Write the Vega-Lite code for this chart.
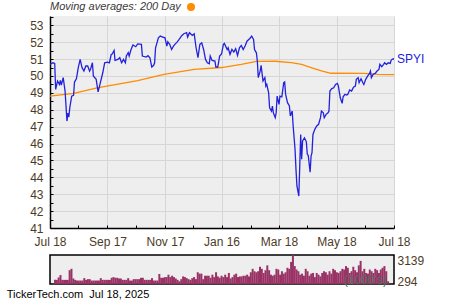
{
  "$schema": "https://vega.github.io/schema/vega-lite/v6.json",
  "padding": {"left": 6, "top": 2, "right": 2, "bottom": 0},
  "background": "white",
  "config": {"font": "Liberation Sans", "view": {"stroke": null}},
  "title": {"text": "TickerTech.com\u00a0\u00a0Jul 18, 2025", "orient": "bottom", "anchor": "start", "frame": "bounds", "fontSize": 11, "fontWeight": "normal", "color": "#000000", "dx": -23, "offset": 1},
  "spacing": 6,
  "datasets": {
    "price": [
      {"date": "2024-07-18", "value": 50.69}, {"date": "2024-07-21", "value": 50.78}, {"date": "2024-07-23", "value": 50.74}, {"date": "2024-07-24", "value": 49.2},
      {"date": "2024-07-26", "value": 49.7}, {"date": "2024-07-28", "value": 49.5}, {"date": "2024-07-29", "value": 49.74}, {"date": "2024-07-30", "value": 49.46},
      {"date": "2024-08-01", "value": 49.9}, {"date": "2024-08-03", "value": 49.1}, {"date": "2024-08-05", "value": 47.33}, {"date": "2024-08-06", "value": 47.8},
      {"date": "2024-08-07", "value": 47.57}, {"date": "2024-08-08", "value": 48.12}, {"date": "2024-08-10", "value": 48.8}, {"date": "2024-08-12", "value": 48.85},
      {"date": "2024-08-13", "value": 49.64}, {"date": "2024-08-15", "value": 49.83}, {"date": "2024-08-17", "value": 50.49}, {"date": "2024-08-19", "value": 50.98},
      {"date": "2024-08-21", "value": 50.49}, {"date": "2024-08-23", "value": 50.29}, {"date": "2024-08-25", "value": 50.59}, {"date": "2024-08-27", "value": 50.59},
      {"date": "2024-08-29", "value": 50.29}, {"date": "2024-08-30", "value": 50.4}, {"date": "2024-09-01", "value": 50.78}, {"date": "2024-09-02", "value": 50.0},
      {"date": "2024-09-05", "value": 49.8}, {"date": "2024-09-07", "value": 49.06}, {"date": "2024-09-09", "value": 49.5}, {"date": "2024-09-12", "value": 50.19},
      {"date": "2024-09-14", "value": 50.78}, {"date": "2024-09-17", "value": 50.82}, {"date": "2024-09-19", "value": 50.78}, {"date": "2024-09-21", "value": 51.28},
      {"date": "2024-09-22", "value": 51.3}, {"date": "2024-09-24", "value": 51.51}, {"date": "2024-09-25", "value": 50.92}, {"date": "2024-09-28", "value": 50.98},
      {"date": "2024-09-30", "value": 51.08}, {"date": "2024-10-02", "value": 50.78}, {"date": "2024-10-04", "value": 50.98}, {"date": "2024-10-06", "value": 50.78},
      {"date": "2024-10-07", "value": 51.18}, {"date": "2024-10-09", "value": 51.38}, {"date": "2024-10-10", "value": 51.18}, {"date": "2024-10-12", "value": 51.57},
      {"date": "2024-10-14", "value": 51.83}, {"date": "2024-10-17", "value": 51.73}, {"date": "2024-10-19", "value": 51.9}, {"date": "2024-10-23", "value": 51.87},
      {"date": "2024-10-24", "value": 51.18}, {"date": "2024-10-28", "value": 51.12}, {"date": "2024-10-30", "value": 51.2}, {"date": "2024-11-01", "value": 51.08},
      {"date": "2024-11-03", "value": 50.53}, {"date": "2024-11-05", "value": 50.63}, {"date": "2024-11-06", "value": 50.78}, {"date": "2024-11-07", "value": 51.67},
      {"date": "2024-11-10", "value": 52.26}, {"date": "2024-11-12", "value": 52.36}, {"date": "2024-11-14", "value": 52.32}, {"date": "2024-11-17", "value": 52.26},
      {"date": "2024-11-19", "value": 51.77}, {"date": "2024-11-20", "value": 52.02}, {"date": "2024-11-22", "value": 51.87}, {"date": "2024-11-24", "value": 51.57},
      {"date": "2024-11-26", "value": 51.77}, {"date": "2024-11-28", "value": 51.9}, {"date": "2024-11-30", "value": 52.02}, {"date": "2024-12-02", "value": 52.16},
      {"date": "2024-12-05", "value": 52.4}, {"date": "2024-12-07", "value": 52.5}, {"date": "2024-12-10", "value": 52.56}, {"date": "2024-12-11", "value": 52.3},
      {"date": "2024-12-13", "value": 52.56}, {"date": "2024-12-16", "value": 52.4}, {"date": "2024-12-18", "value": 52.5}, {"date": "2024-12-20", "value": 51.67},
      {"date": "2024-12-22", "value": 51.08}, {"date": "2024-12-24", "value": 51.87}, {"date": "2024-12-26", "value": 51.96}, {"date": "2024-12-28", "value": 51.57},
      {"date": "2024-12-30", "value": 50.98}, {"date": "2025-01-01", "value": 50.78}, {"date": "2025-01-03", "value": 50.72}, {"date": "2025-01-04", "value": 51.18},
      {"date": "2025-01-06", "value": 50.92}, {"date": "2025-01-09", "value": 50.88}, {"date": "2025-01-10", "value": 50.53}, {"date": "2025-01-12", "value": 50.53},
      {"date": "2025-01-14", "value": 51.18}, {"date": "2025-01-16", "value": 51.3}, {"date": "2025-01-18", "value": 51.87}, {"date": "2025-01-19", "value": 51.93},
      {"date": "2025-01-22", "value": 51.57}, {"date": "2025-01-23", "value": 51.67}, {"date": "2025-01-25", "value": 51.28}, {"date": "2025-01-27", "value": 51.57},
      {"date": "2025-01-29", "value": 51.41}, {"date": "2025-01-31", "value": 51.61}, {"date": "2025-02-02", "value": 51.22}, {"date": "2025-02-04", "value": 51.67},
      {"date": "2025-02-06", "value": 51.81}, {"date": "2025-02-08", "value": 51.57}, {"date": "2025-02-10", "value": 51.77}, {"date": "2025-02-12", "value": 52.06},
      {"date": "2025-02-15", "value": 52.22}, {"date": "2025-02-17", "value": 52.36}, {"date": "2025-02-19", "value": 52.16}, {"date": "2025-02-20", "value": 51.57},
      {"date": "2025-02-22", "value": 51.37}, {"date": "2025-02-23", "value": 50.88}, {"date": "2025-02-24", "value": 49.9}, {"date": "2025-02-26", "value": 50.29},
      {"date": "2025-02-27", "value": 50.63}, {"date": "2025-03-01", "value": 49.7}, {"date": "2025-03-03", "value": 49.9}, {"date": "2025-03-04", "value": 49.4},
      {"date": "2025-03-05", "value": 49.5}, {"date": "2025-03-07", "value": 49.0}, {"date": "2025-03-08", "value": 48.12}, {"date": "2025-03-10", "value": 47.92},
      {"date": "2025-03-11", "value": 48.22}, {"date": "2025-03-12", "value": 47.82}, {"date": "2025-03-14", "value": 47.53}, {"date": "2025-03-15", "value": 47.82},
      {"date": "2025-03-16", "value": 48.81}, {"date": "2025-03-18", "value": 48.32}, {"date": "2025-03-19", "value": 48.81}, {"date": "2025-03-21", "value": 48.77},
      {"date": "2025-03-23", "value": 49.6}, {"date": "2025-03-24", "value": 49.64}, {"date": "2025-03-25", "value": 48.91}, {"date": "2025-03-27", "value": 48.42},
      {"date": "2025-03-29", "value": 48.22}, {"date": "2025-03-30", "value": 47.63}, {"date": "2025-04-01", "value": 47.92}, {"date": "2025-04-02", "value": 47.04},
      {"date": "2025-04-04", "value": 45.66}, {"date": "2025-04-05", "value": 44.47}, {"date": "2025-04-06", "value": 43.49}, {"date": "2025-04-08", "value": 42.89},
      {"date": "2025-04-09", "value": 44.67}, {"date": "2025-04-10", "value": 46.54}, {"date": "2025-04-11", "value": 45.07}, {"date": "2025-04-12", "value": 46.15},
      {"date": "2025-04-14", "value": 46.34}, {"date": "2025-04-16", "value": 46.1}, {"date": "2025-04-17", "value": 45.36}, {"date": "2025-04-18", "value": 45.3},
      {"date": "2025-04-20", "value": 44.3}, {"date": "2025-04-21", "value": 45.26}, {"date": "2025-04-22", "value": 45.46}, {"date": "2025-04-23", "value": 46.54},
      {"date": "2025-04-25", "value": 46.84}, {"date": "2025-04-27", "value": 47.04}, {"date": "2025-04-29", "value": 47.14}, {"date": "2025-05-01", "value": 47.53},
      {"date": "2025-05-02", "value": 47.92}, {"date": "2025-05-04", "value": 47.82}, {"date": "2025-05-05", "value": 47.53}, {"date": "2025-05-07", "value": 47.73},
      {"date": "2025-05-09", "value": 47.82}, {"date": "2025-05-10", "value": 47.92}, {"date": "2025-05-11", "value": 49.11}, {"date": "2025-05-13", "value": 49.25},
      {"date": "2025-05-15", "value": 49.3}, {"date": "2025-05-17", "value": 49.5}, {"date": "2025-05-19", "value": 49.56}, {"date": "2025-05-20", "value": 49.4},
      {"date": "2025-05-22", "value": 48.71}, {"date": "2025-05-24", "value": 48.38}, {"date": "2025-05-25", "value": 48.77}, {"date": "2025-05-27", "value": 48.91},
      {"date": "2025-05-29", "value": 48.87}, {"date": "2025-05-30", "value": 48.91}, {"date": "2025-06-01", "value": 49.17}, {"date": "2025-06-03", "value": 49.11},
      {"date": "2025-06-05", "value": 49.34}, {"date": "2025-06-07", "value": 49.4}, {"date": "2025-06-08", "value": 49.8}, {"date": "2025-06-10", "value": 49.9},
      {"date": "2025-06-11", "value": 49.6}, {"date": "2025-06-13", "value": 49.83}, {"date": "2025-06-15", "value": 49.6}, {"date": "2025-06-16", "value": 49.5},
      {"date": "2025-06-18", "value": 49.8}, {"date": "2025-06-20", "value": 49.99}, {"date": "2025-06-22", "value": 50.15}, {"date": "2025-06-23", "value": 50.29},
      {"date": "2025-06-24", "value": 49.9}, {"date": "2025-06-26", "value": 50.1}, {"date": "2025-06-28", "value": 50.15}, {"date": "2025-06-30", "value": 50.29},
      {"date": "2025-07-02", "value": 50.39}, {"date": "2025-07-03", "value": 50.69}, {"date": "2025-07-05", "value": 50.55}, {"date": "2025-07-07", "value": 50.69},
      {"date": "2025-07-08", "value": 50.78}, {"date": "2025-07-10", "value": 50.69}, {"date": "2025-07-12", "value": 50.78}, {"date": "2025-07-14", "value": 50.74},
      {"date": "2025-07-15", "value": 50.94}, {"date": "2025-07-17", "value": 51.02}, {"date": "2025-07-18", "value": 50.98}
    ],
    "ma": [
      {"date": "2024-07-18", "value": 48.81, "series": "200 Day"}, {"date": "2024-08-12", "value": 48.97, "series": "200 Day"},
      {"date": "2024-09-06", "value": 49.3, "series": "200 Day"}, {"date": "2024-10-19", "value": 49.72, "series": "200 Day"},
      {"date": "2024-11-16", "value": 50.1, "series": "200 Day"}, {"date": "2024-12-18", "value": 50.39, "series": "200 Day"},
      {"date": "2025-01-16", "value": 50.5, "series": "200 Day"}, {"date": "2025-02-06", "value": 50.69, "series": "200 Day"},
      {"date": "2025-02-22", "value": 50.86, "series": "200 Day"}, {"date": "2025-03-14", "value": 50.87, "series": "200 Day"},
      {"date": "2025-03-31", "value": 50.79, "series": "200 Day"}, {"date": "2025-04-11", "value": 50.68, "series": "200 Day"},
      {"date": "2025-04-21", "value": 50.5, "series": "200 Day"}, {"date": "2025-05-02", "value": 50.3, "series": "200 Day"},
      {"date": "2025-05-12", "value": 50.16, "series": "200 Day"}, {"date": "2025-06-16", "value": 50.15, "series": "200 Day"},
      {"date": "2025-07-01", "value": 50.1, "series": "200 Day"}, {"date": "2025-07-18", "value": 50.08, "series": "200 Day"}
    ],
    "volume": [
      {"date": "2024-07-18", "volume": 448}, {"date": "2024-07-20", "volume": 448}, {"date": "2024-07-22", "volume": 709}, {"date": "2024-07-24", "volume": 971},
      {"date": "2024-07-26", "volume": 448}, {"date": "2024-07-28", "volume": 448}, {"date": "2024-07-30", "volume": 448}, {"date": "2024-08-01", "volume": 448},
      {"date": "2024-08-03", "volume": 1493}, {"date": "2024-08-05", "volume": 1643}, {"date": "2024-08-07", "volume": 597}, {"date": "2024-08-09", "volume": 448},
      {"date": "2024-08-11", "volume": 373}, {"date": "2024-08-13", "volume": 373}, {"date": "2024-08-15", "volume": 373}, {"date": "2024-08-17", "volume": 373},
      {"date": "2024-08-19", "volume": 635}, {"date": "2024-08-21", "volume": 448}, {"date": "2024-08-23", "volume": 523}, {"date": "2024-08-25", "volume": 523},
      {"date": "2024-08-27", "volume": 373}, {"date": "2024-08-29", "volume": 373}, {"date": "2024-08-31", "volume": 373}, {"date": "2024-09-02", "volume": 373},
      {"date": "2024-09-04", "volume": 373}, {"date": "2024-09-06", "volume": 635}, {"date": "2024-09-08", "volume": 448}, {"date": "2024-09-10", "volume": 448},
      {"date": "2024-09-12", "volume": 448}, {"date": "2024-09-14", "volume": 448}, {"date": "2024-09-16", "volume": 448}, {"date": "2024-09-18", "volume": 672},
      {"date": "2024-09-20", "volume": 747}, {"date": "2024-09-22", "volume": 672}, {"date": "2024-09-24", "volume": 672}, {"date": "2024-09-26", "volume": 597},
      {"date": "2024-09-28", "volume": 597}, {"date": "2024-09-30", "volume": 448}, {"date": "2024-10-02", "volume": 448}, {"date": "2024-10-04", "volume": 448},
      {"date": "2024-10-06", "volume": 635}, {"date": "2024-10-08", "volume": 373}, {"date": "2024-10-10", "volume": 373}, {"date": "2024-10-12", "volume": 523},
      {"date": "2024-10-14", "volume": 523}, {"date": "2024-10-16", "volume": 523}, {"date": "2024-10-18", "volume": 523}, {"date": "2024-10-20", "volume": 672},
      {"date": "2024-10-22", "volume": 672}, {"date": "2024-10-24", "volume": 448}, {"date": "2024-10-26", "volume": 448}, {"date": "2024-10-28", "volume": 448},
      {"date": "2024-10-30", "volume": 448}, {"date": "2024-11-01", "volume": 635}, {"date": "2024-11-03", "volume": 373}, {"date": "2024-11-05", "volume": 373},
      {"date": "2024-11-07", "volume": 373}, {"date": "2024-11-09", "volume": 1083}, {"date": "2024-11-11", "volume": 672}, {"date": "2024-11-13", "volume": 672},
      {"date": "2024-11-15", "volume": 747}, {"date": "2024-11-17", "volume": 747}, {"date": "2024-11-19", "volume": 1008}, {"date": "2024-11-21", "volume": 747},
      {"date": "2024-11-23", "volume": 896}, {"date": "2024-11-25", "volume": 747}, {"date": "2024-11-27", "volume": 597}, {"date": "2024-11-29", "volume": 448},
      {"date": "2024-12-01", "volume": 294}, {"date": "2024-12-03", "volume": 523}, {"date": "2024-12-05", "volume": 821}, {"date": "2024-12-07", "volume": 747},
      {"date": "2024-12-09", "volume": 635}, {"date": "2024-12-11", "volume": 523}, {"date": "2024-12-13", "volume": 448}, {"date": "2024-12-15", "volume": 635},
      {"date": "2024-12-17", "volume": 747}, {"date": "2024-12-19", "volume": 523}, {"date": "2024-12-21", "volume": 1270}, {"date": "2024-12-23", "volume": 1120},
      {"date": "2024-12-25", "volume": 1120}, {"date": "2024-12-27", "volume": 523}, {"date": "2024-12-29", "volume": 896}, {"date": "2024-12-31", "volume": 896},
      {"date": "2025-01-02", "volume": 896}, {"date": "2025-01-04", "volume": 672}, {"date": "2025-01-06", "volume": 1008}, {"date": "2025-01-08", "volume": 747},
      {"date": "2025-01-10", "volume": 1270}, {"date": "2025-01-12", "volume": 821}, {"date": "2025-01-14", "volume": 672}, {"date": "2025-01-16", "volume": 896},
      {"date": "2025-01-18", "volume": 747}, {"date": "2025-01-20", "volume": 1008}, {"date": "2025-01-22", "volume": 747}, {"date": "2025-01-24", "volume": 1195},
      {"date": "2025-01-26", "volume": 597}, {"date": "2025-01-28", "volume": 747}, {"date": "2025-01-30", "volume": 1008}, {"date": "2025-02-01", "volume": 1120},
      {"date": "2025-02-03", "volume": 747}, {"date": "2025-02-05", "volume": 821}, {"date": "2025-02-07", "volume": 821}, {"date": "2025-02-09", "volume": 896},
      {"date": "2025-02-11", "volume": 896}, {"date": "2025-02-13", "volume": 1008}, {"date": "2025-02-15", "volume": 821}, {"date": "2025-02-17", "volume": 1270},
      {"date": "2025-02-19", "volume": 1643}, {"date": "2025-02-21", "volume": 1381}, {"date": "2025-02-23", "volume": 1270}, {"date": "2025-02-25", "volume": 1381},
      {"date": "2025-02-27", "volume": 1866}, {"date": "2025-03-01", "volume": 1643}, {"date": "2025-03-03", "volume": 1195}, {"date": "2025-03-05", "volume": 1493},
      {"date": "2025-03-07", "volume": 2016}, {"date": "2025-03-09", "volume": 1493}, {"date": "2025-03-11", "volume": 1008}, {"date": "2025-03-13", "volume": 896},
      {"date": "2025-03-15", "volume": 1008}, {"date": "2025-03-17", "volume": 1643}, {"date": "2025-03-19", "volume": 1567}, {"date": "2025-03-21", "volume": 1008},
      {"date": "2025-03-23", "volume": 1381}, {"date": "2025-03-25", "volume": 1120}, {"date": "2025-03-27", "volume": 1270}, {"date": "2025-03-29", "volume": 1754},
      {"date": "2025-03-31", "volume": 1643}, {"date": "2025-04-02", "volume": 2390}, {"date": "2025-04-04", "volume": 3139}, {"date": "2025-04-06", "volume": 1940},
      {"date": "2025-04-08", "volume": 1567}, {"date": "2025-04-10", "volume": 1381}, {"date": "2025-04-12", "volume": 1008}, {"date": "2025-04-14", "volume": 1120},
      {"date": "2025-04-16", "volume": 896}, {"date": "2025-04-18", "volume": 1643}, {"date": "2025-04-20", "volume": 1381}, {"date": "2025-04-22", "volume": 896},
      {"date": "2025-04-24", "volume": 1120}, {"date": "2025-04-26", "volume": 1195}, {"date": "2025-04-28", "volume": 747}, {"date": "2025-04-30", "volume": 1195},
      {"date": "2025-05-02", "volume": 1008}, {"date": "2025-05-04", "volume": 821}, {"date": "2025-05-06", "volume": 1195}, {"date": "2025-05-08", "volume": 1381},
      {"date": "2025-05-10", "volume": 1270}, {"date": "2025-05-12", "volume": 1008}, {"date": "2025-05-14", "volume": 1381}, {"date": "2025-05-16", "volume": 1120},
      {"date": "2025-05-18", "volume": 1643}, {"date": "2025-05-20", "volume": 1493}, {"date": "2025-05-22", "volume": 1270}, {"date": "2025-05-24", "volume": 1195},
      {"date": "2025-05-26", "volume": 1381}, {"date": "2025-05-28", "volume": 1643}, {"date": "2025-05-30", "volume": 1567}, {"date": "2025-06-01", "volume": 1940},
      {"date": "2025-06-03", "volume": 1754}, {"date": "2025-06-05", "volume": 1195}, {"date": "2025-06-07", "volume": 1381}, {"date": "2025-06-09", "volume": 1866},
      {"date": "2025-06-11", "volume": 1493}, {"date": "2025-06-13", "volume": 1270}, {"date": "2025-06-15", "volume": 2016}, {"date": "2025-06-17", "volume": 2500},
      {"date": "2025-06-19", "volume": 1381}, {"date": "2025-06-21", "volume": 1643}, {"date": "2025-06-23", "volume": 1195}, {"date": "2025-06-25", "volume": 1120},
      {"date": "2025-06-27", "volume": 1567}, {"date": "2025-06-29", "volume": 1381}, {"date": "2025-07-01", "volume": 1195}, {"date": "2025-07-03", "volume": 1643},
      {"date": "2025-07-05", "volume": 1493}, {"date": "2025-07-07", "volume": 1195}, {"date": "2025-07-09", "volume": 1567}, {"date": "2025-07-11", "volume": 1754},
      {"date": "2025-07-13", "volume": 1940}, {"date": "2025-07-15", "volume": 1381}, {"date": "2025-07-17", "volume": 294}
    ]
  },
  "vconcat": [
    {
      "width": 344,
      "height": 212,
      "view": {"fill": "#eeeeee", "stroke": null},
      "layer": [
        {
          "data": {"name": "ma"},
          "mark": {"type": "line", "strokeWidth": 1.3, "clip": true},
          "encoding": {
            "x": {"field": "date", "type": "temporal",
              "scale": {"type": "utc", "domain": [{"year": 2024, "month": 7, "date": 18, "utc": true}, {"year": 2025, "month": 7, "date": 18, "utc": true}]},
              "axis": {
                "title": null,
                "values": [
                  {"year": 2024, "month": 7, "date": 18, "utc": true}, {"year": 2024, "month": 8, "date": 17, "utc": true},
                  {"year": 2024, "month": 9, "date": 17, "utc": true}, {"year": 2024, "month": 10, "date": 17, "utc": true},
                  {"year": 2024, "month": 11, "date": 17, "utc": true}, {"year": 2024, "month": 12, "date": 17, "utc": true},
                  {"year": 2025, "month": 1, "date": 16, "utc": true}, {"year": 2025, "month": 2, "date": 16, "utc": true},
                  {"year": 2025, "month": 3, "date": 18, "utc": true}, {"year": 2025, "month": 4, "date": 17, "utc": true},
                  {"year": 2025, "month": 5, "date": 18, "utc": true}, {"year": 2025, "month": 6, "date": 17, "utc": true},
                  {"year": 2025, "month": 7, "date": 18, "utc": true}
                ],
                "tickCount": 100,
                "labelExpr": "utcmonth(datum.value) % 2 == 0 ? utcFormat(datum.value, '%b %d') : ''",
                "labelOverlap": false,
                "labelFlush": false,
                "grid": true,
                "gridColor": "#d6d6d6",
                "gridOpacity": {"condition": {"test": "utcmonth(datum.value) % 2 == 1", "value": 0}, "value": 1},
                "tickSize": -3,
                "tickColor": "#000000",
                "domainColor": "#000000",
                "domainWidth": 1.5,
                "labelPadding": 11,
                "labelFontSize": 12,
                "labelColor": "#4d3b1f"
              }
            },
            "y": {"field": "value", "type": "quantitative",
              "scale": {"domain": [41, 53.55], "nice": false, "zero": false},
              "axis": {
                "title": null,
                "values": [41, 41.5, 42, 42.5, 43, 43.5, 44, 44.5, 45, 45.5, 46, 46.5, 47, 47.5, 48, 48.5, 49, 49.5, 50, 50.5, 51, 51.5, 52, 52.5, 53, 53.5],
                "tickCount": 100,
                "labelExpr": "datum.value % 1 == 0 ? format(datum.value, 'd') : ''",
                "labelOverlap": false,
                "labelFlush": false,
                "grid": true,
                "gridColor": "#d6d6d6",
                "gridOpacity": {"condition": {"test": "datum.value % 1 != 0", "value": 0}, "value": 1},
                "tickSize": -3,
                "tickColor": "#000000",
                "domainColor": "#000000",
                "domainWidth": 1.5,
                "labelPadding": 10,
                "labelFontSize": 12,
                "labelColor": "#4d3b1f"
              }
            },
            "color": {"field": "series", "type": "nominal",
              "scale": {"domain": ["200 Day"], "range": ["#ff8c00"]},
              "legend": {
                "orient": "none", "legendX": 0, "legendY": -14,
                "title": "Moving averages: 200 Day",
                "titleOrient": "left", "titleFontStyle": "italic", "titleFontWeight": "normal",
                "titleFontSize": 11, "titleColor": "#3a3a3a", "titlePadding": 5,
                "labelExpr": "''", "symbolType": "circle", "symbolSize": 64,
                "symbolFillColor": "#ff8c00", "symbolStrokeWidth": 0, "padding": 0,
                "direction": "horizontal",
                "encode": {"symbols": {"update": {"fill": {"value": "#ff8c00"}, "stroke": {"value": "transparent"}}}}
              }
            }
          }
        },
        {
          "data": {"name": "price"},
          "mark": {"type": "line", "color": "#2222dd", "strokeWidth": 1.3, "clip": true},
          "encoding": {
            "x": {"field": "date", "type": "temporal"},
            "y": {"field": "value", "type": "quantitative"}
          }
        },
        {
          "data": {"values": [{"date": "2025-07-18", "value": 50.98, "label": "SPYI"}]},
          "mark": {"type": "text", "align": "left", "baseline": "middle", "dx": 3, "color": "#2222dd", "fontSize": 12},
          "encoding": {
            "x": {"field": "date", "type": "temporal"},
            "y": {"field": "value", "type": "quantitative"},
            "text": {"field": "label"}
          }
        }
      ]
    },
    {
      "width": 344,
      "height": 29,
      "view": {"fill": "#eeeeee", "stroke": "#000000", "strokeWidth": 1.5},
      "layer": [
        {
          "data": {"name": "volume"},
          "mark": {"type": "bar", "size": 2, "color": "#993366", "clip": true},
          "encoding": {
            "x": {"field": "date", "type": "temporal",
              "scale": {"type": "utc", "domain": [{"year": 2024, "month": 7, "date": 18, "utc": true}, {"year": 2025, "month": 7, "date": 18, "utc": true}]},
              "axis": null},
            "y": {"field": "volume", "type": "quantitative",
              "scale": {"domain": [0, 3139], "nice": false},
              "axis": {
                "orient": "right", "title": null, "values": [294, 3139], "tickCount": 100, "format": "d",
                "ticks": false, "domain": false, "grid": false,
                "labelPadding": 3, "labelFontSize": 12, "labelColor": "#4d3b1f",
                "labelBaseline": {"condition": {"test": "datum.value > 1000", "value": "top"}, "value": "middle"}
              }
            }
          }
        },
        {
          "data": {"values": [{"date": "2025-07-18", "volume": 430, "note": "(1000's)"}]},
          "mark": {"type": "text", "align": "right", "baseline": "middle", "dx": -2, "color": "#4f6f60", "fontSize": 12},
          "encoding": {
            "x": {"field": "date", "type": "temporal"},
            "y": {"field": "volume", "type": "quantitative"},
            "text": {"field": "note"}
          }
        }
      ]
    }
  ]
}
